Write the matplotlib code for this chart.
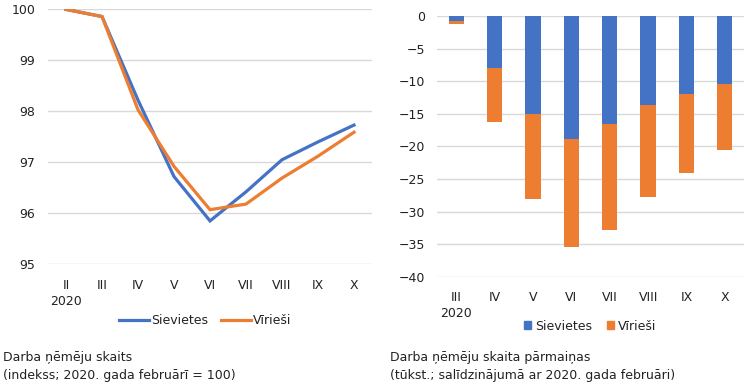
import matplotlib as mpl

mpl.use("Agg")

import matplotlib.pyplot as plt
from matplotlib.lines import Line2D
from matplotlib.patches import Patch

BLUE = "#4472C4"
ORANGE = "#ED7D31"
GRID = "#D9D9D9"
TEXT = "#222222"

# left panel: index, Feb 2020 = 100
months_idx = ["II\n2020", "III", "IV", "V", "VI", "VII", "VIII", "IX", "X"]
women_idx = [100.0, 99.86, 98.22, 96.72, 95.85, 96.42, 97.05, 97.40, 97.73]
men_idx = [100.0, 99.86, 98.03, 96.92, 96.07, 96.18, 96.69, 97.12, 97.59]

# right panel: change vs Feb 2020, thousands
months_chg = ["III\n2020", "IV", "V", "VI", "VII", "VIII", "IX", "X"]
women_chg = [-0.7, -8.0, -15.0, -18.9, -16.5, -13.6, -12.0, -10.4]
men_chg = [-0.5, -8.2, -13.1, -16.6, -16.3, -14.1, -12.1, -10.2]

mpl.rcParams.update(
    {
        "font.family": ["DejaVu Sans"],
        "font.size": 9,
        "text.color": TEXT,
        "xtick.color": TEXT,
        "ytick.color": TEXT,
    }
)


def style(ax):
    for s in ax.spines.values():
        s.set_visible(False)
    ax.grid(axis="y", color=GRID, lw=1.0)
    ax.set_axisbelow(True)
    ax.tick_params(length=0, labelsize=9)


fig = plt.figure(figsize=(7.5, 3.92), dpi=100)

ax1 = fig.add_axes([0.064, 0.326, 0.432, 0.650])
style(ax1)
x1 = range(len(months_idx))
ax1.plot(x1, women_idx, color=BLUE, lw=2.3, solid_joinstyle="miter")
ax1.plot(x1, men_idx, color=ORANGE, lw=2.3, solid_joinstyle="miter")
ax1.set_xlim(-0.5, len(months_idx) - 0.5)
ax1.set_ylim(95, 100)
ax1.set_yticks([95, 96, 97, 98, 99, 100])
ax1.set_xticks(list(x1))
ax1.set_xticklabels(months_idx, linespacing=1.3)
ax1.tick_params(axis="x", pad=11)
ax1.tick_params(axis="y", pad=9)

ax2 = fig.add_axes([0.583, 0.294, 0.409, 0.665])
style(ax2)
x2 = range(len(months_chg))
ax2.bar(x2, women_chg, width=0.4, color=BLUE)
ax2.bar(x2, men_chg, width=0.4, bottom=women_chg, color=ORANGE)
ax2.set_xlim(-0.5, len(months_chg) - 0.5)
ax2.set_ylim(-40, 0)
ax2.set_yticks(range(-40, 1, 5))
ax2.set_xticks(list(x2))
ax2.set_xticklabels(months_chg, linespacing=1.3)
ax2.tick_params(axis="x", pad=10)
ax2.tick_params(axis="y", pad=9)

fig.legend(
    handles=[Line2D([], [], color=BLUE, lw=2.3), Line2D([], [], color=ORANGE, lw=2.3)],
    labels=["Sievietes", "Vīrieši"],
    loc="center", bbox_to_anchor=(205 / 750, 1 - 321 / 392),
    ncol=2, frameon=False, handlelength=2.4, handletextpad=0.15,
    columnspacing=1.0, fontsize=9,
)
fig.legend(
    handles=[Patch(color=BLUE), Patch(color=ORANGE)],
    labels=["Sievietes", "Vīrieši"],
    loc="center", bbox_to_anchor=(590 / 750, 1 - 326 / 392),
    ncol=2, frameon=False, handlelength=0.6, handleheight=0.6,
    handletextpad=0.3, columnspacing=1.2, fontsize=9,
)

fig.text(3 / 750, 1 - 366 / 392, "Darba ņēmēju skaits\n(indekss; 2020. gada februārī = 100)",
         ha="left", va="center", fontsize=9, linespacing=1.5)
fig.text(390 / 750, 1 - 366 / 392, "Darba ņēmēju skaita pārmaiņas\n(tūkst.; salīdzinājumā ar 2020. gada februāri)",
         ha="left", va="center", fontsize=9, linespacing=1.5)

fig.savefig("out.png", dpi=100)
